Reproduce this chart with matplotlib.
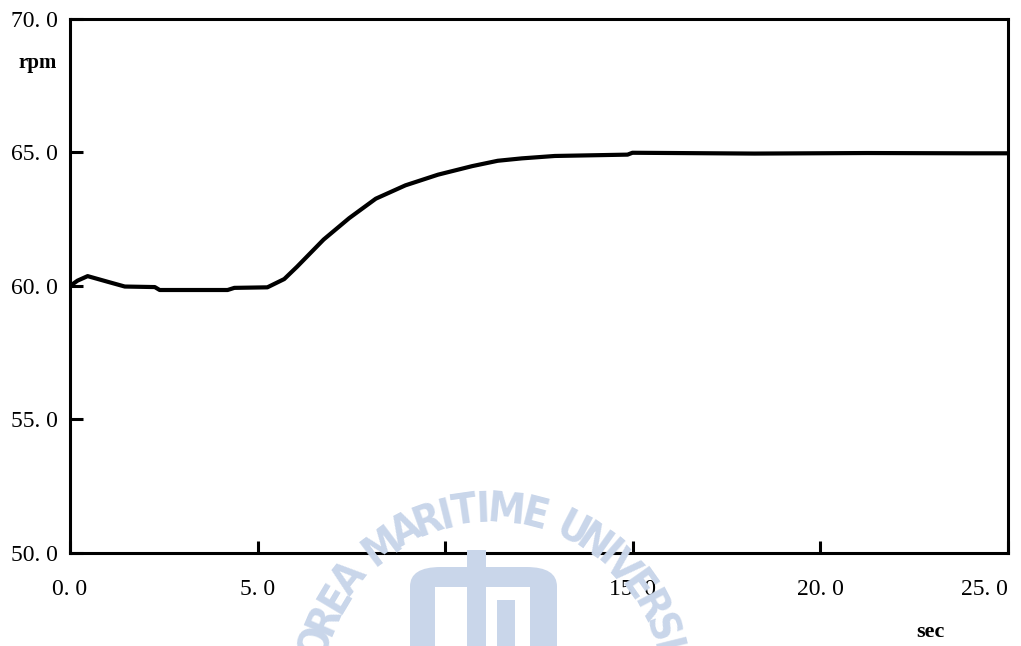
import numpy as np
import matplotlib
matplotlib.use('Agg')
import matplotlib.pyplot as plt
from matplotlib.patches import Rectangle, FancyBboxPatch

# Engine speed response (rpm vs. sec)

# values
time = [0.0, 0.2, 0.47, 1.0, 1.46, 2.26, 2.39, 4.2, 4.38, 5.26, 5.71, 6.05,
        6.76, 7.44, 8.15, 8.94, 9.81, 10.72, 11.4, 12.04, 12.92, 14.86,
        14.99, 16.1, 18.24, 21.24, 23.96, 25.0]
rpm = [60.0, 60.2, 60.37, 60.16, 59.98, 59.96, 59.85, 59.85, 59.93, 59.95,
       60.26, 60.72, 61.74, 62.54, 63.27, 63.77, 64.17, 64.49, 64.69, 64.78,
       64.87, 64.92, 64.99, 64.98, 64.96, 64.98, 64.97, 64.97]

xticks = [0, 5, 10, 15, 20, 25]
xlabels = ['0. 0', '5. 0', '10. 0', '15. 0', '20. 0', '25. 0']
yticks = [50, 55, 60, 65, 70]
ylabels = ['50. 0', '55. 0', '60. 0', '65. 0', '70. 0']

W, H = 1021, 646
fig = plt.figure(figsize=(W/100, H/100), dpi=100)

# ------------------------------------------------------
# faint watermark behind the chart (scan artefact)
wm = '#c9d6ea'
wm_text = 'OREA MARITIME UNIVERSIT'
cx, cy, r = 490, 690, 180
w = np.array([1.4 if c == 'M' else 0.55 if c == 'I' else 0.7 if c == ' ' else 1.0
              for c in wm_text])
pos = np.cumsum(w) - w/2
pos = (pos - pos[0]) / (pos[-1] - pos[0])
angles = np.radians(164.5 - pos*(164.5 - 8.0))
for ch, a in zip(wm_text, angles):
    if ch == ' ':
        continue
    px = cx + r*np.cos(a)
    py = cy - r*np.sin(a)
    fig.text(px/W, 1 - py/H, ch, color=wm, fontsize=30, fontweight='bold',
             family='DejaVu Sans', fontstretch='condensed',
             ha='center', va='center', rotation=np.degrees(a) - 90, zorder=0)

def pix_rect(x0, y0, x1, y1, c=wm):
    return Rectangle((x0/W, 1 - y1/H), (x1-x0)/W, (y1-y0)/H,
                     transform=fig.transFigure, color=c, lw=0, zorder=0)

fig.patches.append(FancyBboxPatch((410/W, 1 - 700/H), 147/W, 133/H,
                                  boxstyle='round,pad=0,rounding_size=0.03',
                                  transform=fig.transFigure, color=wm, lw=0, zorder=0))
fig.patches.append(pix_rect(435, 587, 530, 700, 'white'))
fig.patches.append(pix_rect(467, 550, 486, 646))
fig.patches.append(pix_rect(497, 600, 515, 646))

# ------------------------------------------------------
ax = fig.add_axes([70/W, 1 - 553/H, 938/W, 534/H])
ax.patch.set_alpha(0)

ax.plot(time, rpm, color='black', lw=3.0, solid_capstyle='round')

ax.set_xlim(0, 25)
ax.set_ylim(50, 70)
ax.set_xticks(xticks)
ax.set_xticklabels(xlabels)
ax.set_yticks(yticks)
ax.set_yticklabels(ylabels)

for s in ax.spines.values():
    s.set_linewidth(2.2)

ax.tick_params(axis='both', direction='in', length=9, width=2.2,
               labelsize=17, labelcolor='black')
ax.tick_params(axis='x', pad=19)
ax.tick_params(axis='y', pad=9)
for lab in ax.get_xticklabels() + ax.get_yticklabels():
    lab.set_family('Liberation Serif')
ax.get_xticklabels()[-1].set_horizontalalignment('right')
ax.get_xticklabels()[-1].set_x(25.15)

fig.text(18/W, 1 - 63/H, 'rpm', family='Liberation Serif', fontweight='bold',
         fontsize=15, ha='left', va='center')
fig.text(930/W, 1 - 632/H, 'sec', family='Liberation Serif', fontweight='bold',
         fontsize=16, ha='center', va='center')

fig.savefig('out.png', dpi=100)
